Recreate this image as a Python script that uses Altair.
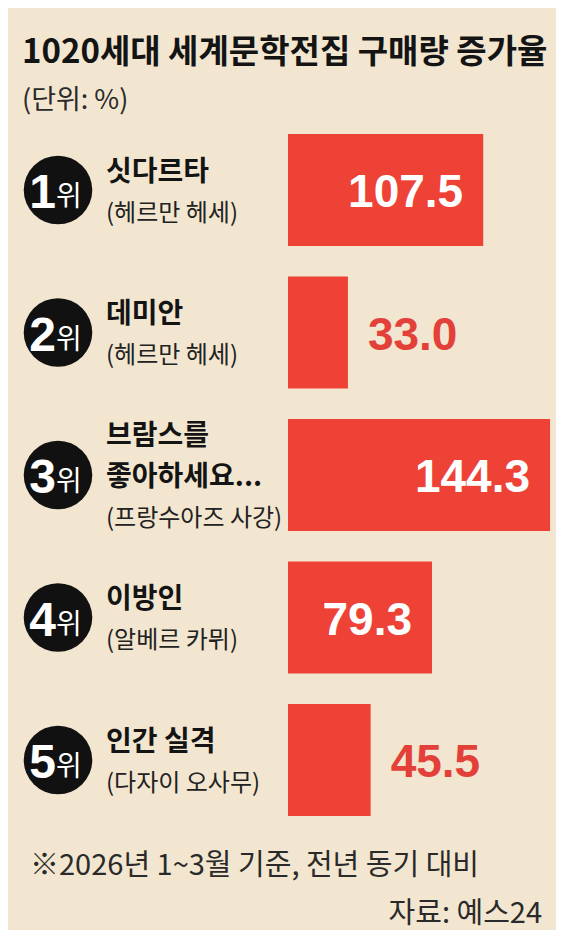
import altair as alt
import pandas as pd

# ---- data ----
ranks = [1, 2, 3, 4, 5]
titles = ["싯다르타", "데미안", "브람스를\n좋아하세요...", "이방인", "인간 실격"]
authors = ["헤르만 헤세", "헤르만 헤세", "프랑수아즈 사강", "알베르 카뮈", "다자이 오사무"]
values = [107.5, 33.0, 144.3, 79.3, 45.5]

TITLE = "1020세대 세계문학전집 구매량 증가율"
UNIT = "(단위: %)"
NOTE = "※2026년 1~3월 기준, 전년 동기 대비"
SOURCE = "자료: 예스24"

# ---- styles ----
BG = "#f2e6d0"
RED = "#ee4236"
RED_TXT = "#e3403a"
INK = "#141414"
KR = "'Noto Sans CJK KR', sans-serif"
NUM = "'Liberation Sans', Arial, sans-serif"
LINE_GAP = 41      # spacing between text lines (px)
BLOCK_SHIFT = 3    # text block centre relative to bar centre (px)

df = pd.DataFrame({
    "rank": ranks,
    "value": values,
    "label": [f"{v:.1f}" for v in values],
    "digit": [str(r) for r in ranks],
    "wi": ["위"] * len(ranks),
})

# one row per printed text line: the block of lines is centred on each bar
rows = []
for r, t, a in zip(ranks, titles, authors):
    lines = [(p, "title") for p in t.split("\n")] + [("(" + a + ")", "author")]
    n = len(lines)
    for i, (txt, kind) in enumerate(lines):
        rows.append({"rank": r, "line": txt, "kind": kind, "pos": i - (n - 1) / 2})
lines_df = pd.DataFrame(rows)

Y = alt.Y("rank:O", axis=None,
          scale=alt.Scale(range=[110.75, 823.25], paddingInner=0.214, paddingOuter=0.107))
X = alt.X("value:Q", axis=None, scale=alt.Scale(domain=[0, 150], range=[280, 552.4]))

base = alt.Chart(df)

bars = base.mark_bar(color=RED).encode(y=Y, x=X, x2=alt.datum(0))

circles = base.mark_point(shape="circle", filled=True, size=4700, color="#111111",
                          opacity=1).encode(x=alt.value(50), y=Y)

digits = base.mark_text(align="right", baseline="alphabetic", dy=18, fontSize=48,
                        fontWeight="bold", font=NUM, color="white").encode(
    x=alt.value(48), y=Y, text="digit:N")
wis = base.mark_text(align="left", baseline="alphabetic", dy=16, fontSize=28,
                     font=KR, color="white").encode(
    x=alt.value(48), y=Y, text="wi:N")

text_layers = []
for (kind, pos), _ in lines_df.groupby(["kind", "pos"]):
    is_title = kind == "title"
    text_layers.append(
        alt.Chart(lines_df).transform_filter(
            f"datum.kind == '{kind}' && datum.pos == {pos}"
        ).mark_text(
            align="left", baseline="middle", dy=BLOCK_SHIFT + pos * LINE_GAP,
            fontSize=28 if is_title else 24,
            fontWeight="bold" if is_title else "normal",
            font=KR, color=INK if is_title else "#222222",
        ).encode(x=alt.value(98), y=Y, text="line:N")
    )

inside = base.transform_filter("datum.value >= 60").mark_text(
    align="right", baseline="alphabetic", dx=-20, dy=17, fontSize=46, fontWeight="bold",
    font=NUM, color="white").encode(x=X, y=Y, text="label:N")
outside = base.transform_filter("datum.value < 60").mark_text(
    align="left", baseline="alphabetic", dx=20, dy=17, fontSize=46, fontWeight="bold",
    font=NUM, color=RED_TXT).encode(x=X, y=Y, text="label:N")


def note(txt, x, y, size, weight="normal", align="left", color=INK):
    return alt.Chart(pd.DataFrame({"t": [txt]})).mark_text(
        align=align, baseline="middle", fontSize=size, fontWeight=weight, font=KR,
        color=color).encode(x=alt.value(x), y=alt.value(y), text="t:N")


title = note(TITLE, 14, 45, 33, weight="bold")
unit = note(UNIT, 14, 93, 27, color="#2a2a2a")
foot = note(NOTE, 22, 858, 29, color="#2a2a2a")
src = note(SOURCE, 534, 906, 29, align="right", color="#2a2a2a")

chart = alt.layer(
    bars, circles, digits, wis, *text_layers, inside, outside, title, unit, foot, src
).properties(
    width=548, height=922, background=BG, padding=0,
    autosize=alt.AutoSizeParams(type="none"),
).configure_view(stroke=None)

chart.save("out.html", embed_options={"renderer": "svg", "actions": False})
